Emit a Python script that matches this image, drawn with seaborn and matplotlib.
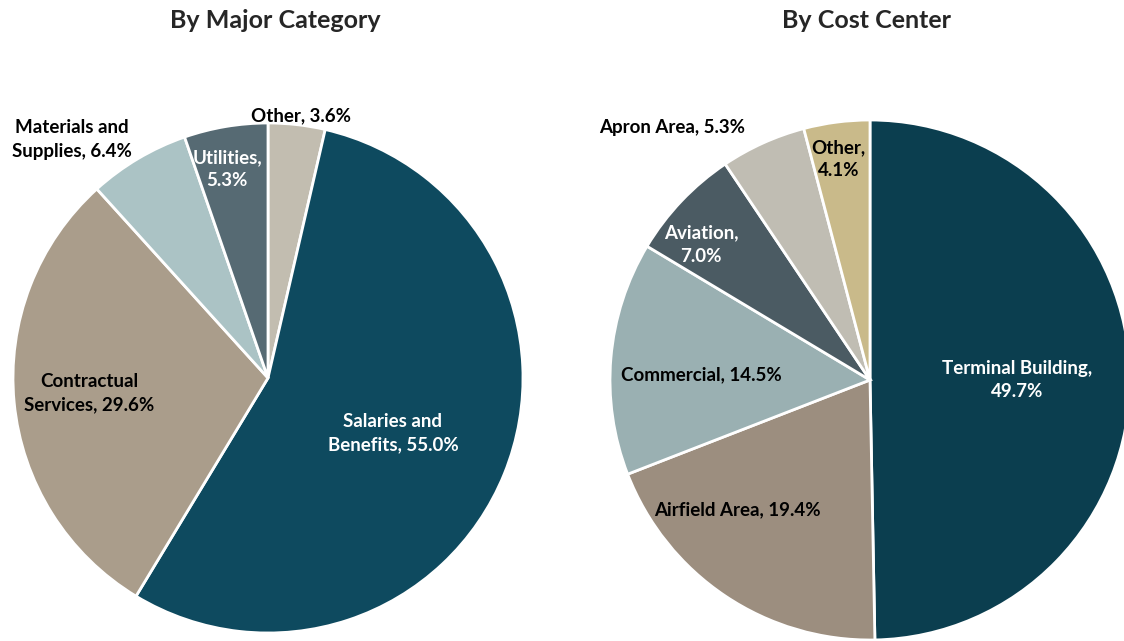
import matplotlib
matplotlib.use('Agg')
import matplotlib.pyplot as plt
import seaborn as sns

# Data (clockwise from 12 o'clock)
major_labels = ['Other, 3.6%', 'Salaries and\nBenefits, 55.0%', 'Contractual\nServices, 29.6%',
                'Materials and\nSupplies, 6.4%', 'Utilities,\n5.3%']
major_values = [3.6, 55.0, 29.6, 6.4, 5.3]
major_colors = ['#c2bdb0', '#0e4a5f', '#aa9d8b', '#abc3c5', '#566a73']
major_text_colors = ['black', 'white', 'black', 'black', 'white']
# label positions relative to pie radius
major_label_pos = [(0.13, 1.03), (0.49, -0.215), (-0.70, -0.06), (-0.77, 0.935), (-0.16, 0.82)]

cost_labels = ['Terminal Building,\n49.7%', 'Airfield Area, 19.4%', 'Commercial, 14.5%',
               'Aviation,\n7.0%', 'Apron Area, 5.3%', 'Other,\n4.1%']
cost_values = [49.7, 19.4, 14.5, 7.0, 5.3, 4.1]
cost_colors = ['#0b3e4f', '#9c8e7f', '#9ab0b2', '#4b5b63', '#c0bdb3', '#c9ba8a']
cost_text_colors = ['white', 'black', 'black', 'white', 'black', 'black']
cost_label_pos = [(0.565, 0.0), (-0.51, -0.50), (-0.65, 0.02), (-0.65, 0.52), (-0.76, 0.97), (-0.12, 0.85)]

sns.set_theme(style='white')
plt.rcParams['font.family'] = ['Lato', 'DejaVu Sans']

fig = plt.figure(figsize=(11.24, 6.41), dpi=100)


def draw_pie(rect, values, colors, labels, text_colors, label_pos, title, title_x):
    ax = fig.add_axes(rect)
    ax.pie(values, colors=colors, startangle=90, counterclock=False, radius=1,
           wedgeprops={'edgecolor': 'white', 'linewidth': 2})
    ax.set_xlim(-1, 1)
    ax.set_ylim(-1, 1)
    ax.set_aspect('auto')
    ax.axis('off')
    for lab, col, (x, y) in zip(labels, text_colors, label_pos):
        ax.text(x, y, lab, ha='center', va='center', color=col, fontsize=13.5,
                fontweight='bold', linespacing=1.45)
    fig.text(title_x, 1 - 20 / 641, title, ha='center', va='center',
             fontsize=18, fontweight='bold')
    return ax


draw_pie([268 / 1124 - 255 / 1124, (641 - 378 - 255) / 641, 510 / 1124, 510 / 641],
         major_values, major_colors, major_labels, major_text_colors, major_label_pos,
         'By Major Category', 275 / 1124)
draw_pie([870 / 1124 - 260 / 1124, (641 - 380 - 260) / 641, 520 / 1124, 520 / 641],
         cost_values, cost_colors, cost_labels, cost_text_colors, cost_label_pos,
         'By Cost Center', 867 / 1124)

fig.savefig('out.png', dpi=100)
